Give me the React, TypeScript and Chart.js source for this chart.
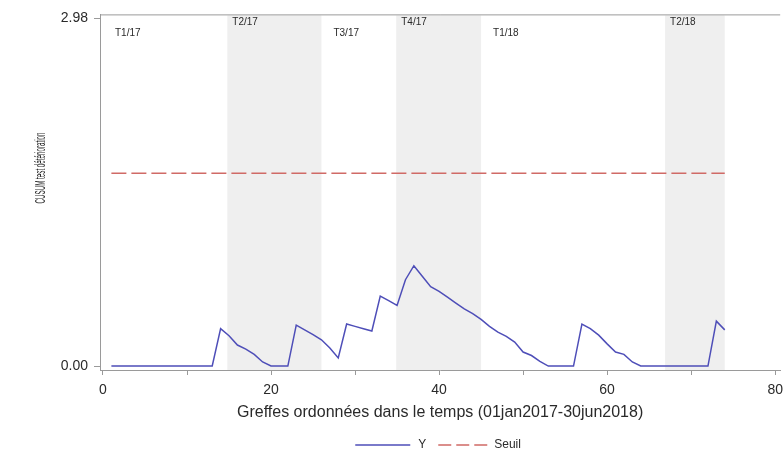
import React, { useEffect, useRef } from 'react';
import { Chart, registerables } from 'chart.js';

Chart.register(...registerables);

const obsIndex = [
  1, 2, 3, 4, 5, 6, 7, 8, 9, 10, 11, 12, 13, 14, 15, 16, 17, 18, 19, 20,
  21, 22, 23, 24, 25, 26, 27, 28, 29, 30, 31, 32, 33, 34, 35, 36, 37, 38, 39, 40,
  41, 42, 43, 44, 45, 46, 47, 48, 49, 50, 51, 52, 53, 54, 55, 56, 57, 58, 59, 60,
  61, 62, 63, 64, 65, 66, 67, 68, 69, 70, 71, 72, 73, 74,
];

const cusumY = [
  0, 0, 0, 0, 0, 0, 0, 0, 0, 0, 0, 0, 0, 0.32, 0.26, 0.18, 0.145, 0.1, 0.035, 0,
  0, 0, 0.35, 0.31, 0.27, 0.225, 0.155, 0.07, 0.36, 0.34, 0.32, 0.3, 0.6, 0.56, 0.52, 0.74, 0.86, 0.77, 0.68, 0.64,
  0.59, 0.54, 0.49, 0.45, 0.4, 0.34, 0.29, 0.255, 0.205, 0.12, 0.09, 0.04, 0, 0, 0, 0, 0.36, 0.32, 0.265, 0.19,
  0.12, 0.1, 0.035, 0, 0, 0, 0, 0, 0, 0, 0, 0, 0.385, 0.31,
];

const seuilX = [1, 74];
const seuilY = [1.652, 1.652];

const quarterLabels = ['T1/17', 'T2/17', 'T3/17', 'T4/17', 'T1/18', 'T2/18'];
const quarterStarts = [0, 14.8, 26.0, 34.9, 45.0, 66.9];
const quarterEnds = [14.8, 26.0, 34.9, 45.0, 66.9, 74.0];

const yTicks = [0, 2.98];
const xTicks = [0, 10, 20, 30, 40, 50, 60, 70, 80];
const xLabelTicks = [0, 20, 40, 60, 80];

const xTitle = 'Greffes ordonnées dans le temps (01jan2017-30jun2018)';
const yTitle = 'CUSUM test détérioration';
const seriesNames = ['Y', 'Seuil'];

const FONT = '"Liberation Sans", Arial, Helvetica, sans-serif';
const BLUE = '#4e4eb8';
const RED = '#d06a66';
const TEXT = '#2a2a2a';
const AXIS = '#9a9a9a';

const decor = {
  id: 'decor',
  beforeDatasetsDraw(chart: any) {
    const { ctx, chartArea: a, scales } = chart;
    const x = scales.x;
    ctx.save();
    ctx.fillStyle = '#efefef';
    quarterStarts.forEach((s, i) => {
      if (i % 2 === 1) {
        const x0 = x.getPixelForValue(s);
        const x1 = x.getPixelForValue(quarterEnds[i]);
        ctx.fillRect(x0, a.top + 1, x1 - x0, a.bottom - a.top - 1);
      }
    });
    ctx.fillStyle = TEXT;
    ctx.font = `10px ${FONT}`;
    ctx.textBaseline = 'middle';
    ctx.textAlign = 'left';
    quarterLabels.forEach((t, i) => {
      const shaded = i % 2 === 1;
      const px = x.getPixelForValue(quarterStarts[i]) + (shaded ? 5 : 12);
      const py = a.top + (shaded ? 8 : 18.5);
      ctx.fillText(t, px, py);
    });
    ctx.restore();
  },
  afterDraw(chart: any) {
    const { ctx, chartArea: a } = chart;
    ctx.save();
    // top frame line
    ctx.strokeStyle = AXIS;
    ctx.lineWidth = 1;
    ctx.beginPath();
    ctx.moveTo(a.left, a.top + 0.5);
    ctx.lineTo(a.right, a.top + 0.5);
    ctx.stroke();

    const cx = (a.left + a.right) / 2;
    // x title
    ctx.fillStyle = TEXT;
    ctx.font = `16px ${FONT}`;
    ctx.textAlign = 'center';
    ctx.textBaseline = 'middle';
    ctx.fillText(xTitle, cx, 413);

    // y title (condensed)
    ctx.save();
    ctx.font = `14px ${FONT}`;
    const w = ctx.measureText(yTitle).width;
    ctx.translate(41, 168);
    ctx.rotate(-Math.PI / 2);
    ctx.scale(71 / w, 1);
    ctx.textAlign = 'center';
    ctx.fillText(yTitle, 0, 0);
    ctx.restore();

    // legend
    ctx.font = `12px ${FONT}`;
    ctx.textAlign = 'left';
    const lineA = 55, gap1 = 8, gap2 = 12, lineB = 50, gap3 = 6;
    const wY = ctx.measureText(seriesNames[0]).width;
    const wS = ctx.measureText(seriesNames[1]).width;
    const total = lineA + gap1 + wY + gap2 + lineB + gap3 + wS;
    let lx = cx - total / 2 - 2;
    const ly = 445;
    ctx.strokeStyle = BLUE;
    ctx.lineWidth = 1.5;
    ctx.beginPath();
    ctx.moveTo(lx, ly);
    ctx.lineTo(lx + lineA, ly);
    ctx.stroke();
    lx += lineA + gap1;
    ctx.fillText(seriesNames[0], lx, ly);
    lx += wY + gap2;
    ctx.strokeStyle = RED;
    ctx.setLineDash([13, 5]);
    ctx.beginPath();
    ctx.moveTo(lx, ly);
    ctx.lineTo(lx + lineB, ly);
    ctx.stroke();
    ctx.setLineDash([]);
    lx += lineB + gap3;
    ctx.fillText(seriesNames[1], lx, ly);
    ctx.restore();
  },
};

export default function App() {
  const ref = useRef<HTMLCanvasElement>(null);
  useEffect(() => {
    if (!ref.current) return;
    const chart = new Chart(ref.current, {
      type: 'line',
      data: {
        datasets: [
          {
            label: seriesNames[0],
            data: obsIndex.map((v, i) => ({ x: v, y: cusumY[i] })),
            borderColor: BLUE,
            borderWidth: 1.5,
            pointRadius: 0,
            tension: 0,
            fill: false,
          },
          {
            label: seriesNames[1],
            data: seuilX.map((v, i) => ({ x: v, y: seuilY[i] })),
            borderColor: RED,
            borderWidth: 1.5,
            borderDash: [15, 5],
            pointRadius: 0,
            tension: 0,
            fill: false,
          },
        ],
      },
      options: {
        animation: false,
        responsive: true,
        maintainAspectRatio: false,
        layout: { padding: { top: 12, right: 6, left: 0, bottom: 0 } },
        plugins: { legend: { display: false }, tooltip: { enabled: false } },
        scales: {
          x: {
            type: 'linear',
            min: -0.355,
            max: 80.6,
            afterBuildTicks: (s: any) => {
              s.ticks = xTicks.map((v) => ({ value: v }));
            },
            afterFit: (s: any) => {
              s.height = 83;
            },
            ticks: {
              autoSkip: false,
              maxRotation: 0,
              padding: 7,
              color: TEXT,
              font: { family: FONT, size: 14 },
              callback: (v: any) => (xLabelTicks.includes(Number(v)) ? String(v) : ''),
            },
            grid: { drawOnChartArea: false, drawTicks: true, tickLength: 5, color: AXIS },
            border: { display: true, color: AXIS },
          },
          y: {
            type: 'linear',
            min: -0.034,
            max: 3.014,
            afterBuildTicks: (s: any) => {
              s.ticks = yTicks.map((v) => ({ value: v }));
            },
            afterFit: (s: any) => {
              s.width = 100;
            },
            ticks: {
              padding: 6,
              color: TEXT,
              font: { family: FONT, size: 14 },
              callback: (v: any) => Number(v).toFixed(2),
            },
            grid: { drawOnChartArea: false, drawTicks: true, tickLength: 6, color: AXIS },
            border: { display: true, color: AXIS },
          },
        },
      },
      plugins: [decor],
    });
    return () => chart.destroy();
  }, []);

  return (
    <div
      style={{
        position: 'fixed',
        left: 0,
        top: 0,
        width: 783,
        height: 453,
        overflow: 'hidden',
        background: '#fff',
      }}
    >
      <div style={{ position: 'relative', width: 790, height: 453 }}>
        <canvas ref={ref} />
      </div>
    </div>
  );
}
